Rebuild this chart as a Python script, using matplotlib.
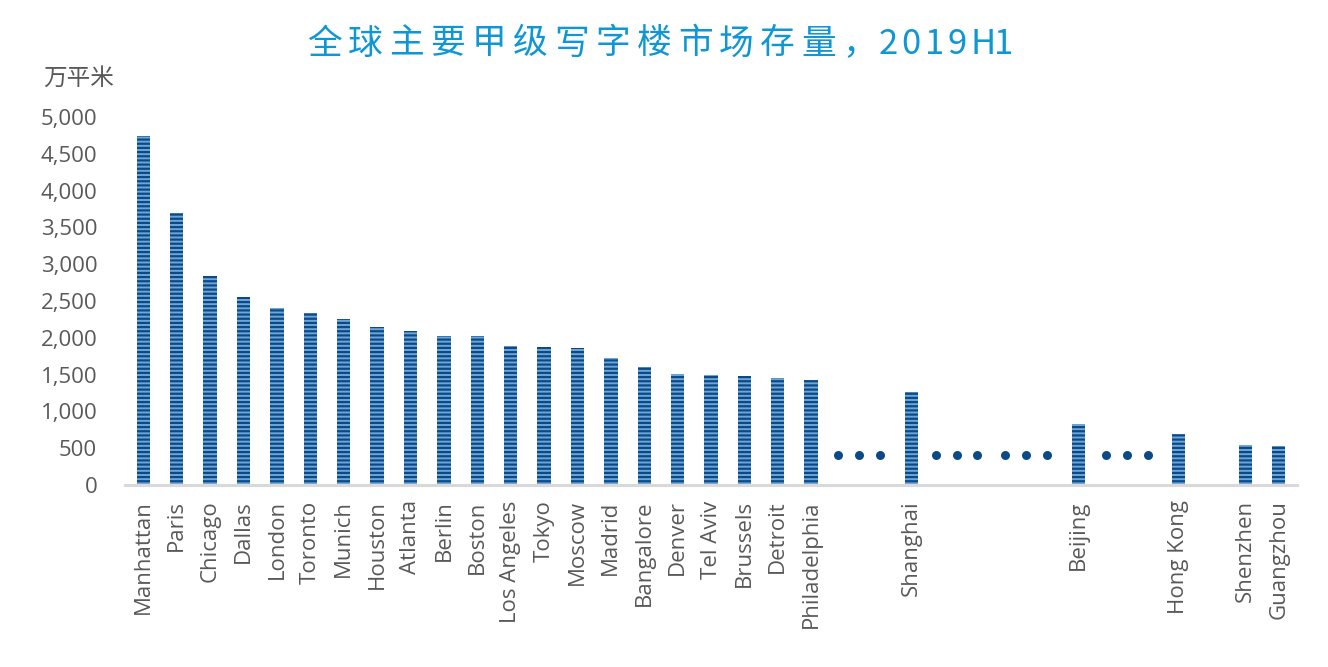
import matplotlib
matplotlib.use("Agg")
import matplotlib.pyplot as plt
from matplotlib.ticker import FuncFormatter

plt.rcParams['font.family'] = ['Open Sans', 'Noto Sans CJK SC', 'DejaVu Sans']
plt.rcParams['hatch.linewidth'] = 1.6

# slot index of each city (gaps hold the "..." markers)
cities = ["Manhattan", "Paris", "Chicago", "Dallas", "London", "Toronto", "Munich",
          "Houston", "Atlanta", "Berlin", "Boston", "Los Angeles", "Tokyo", "Moscow",
          "Madrid", "Bangalore", "Denver", "Tel Aviv", "Brussels", "Detroit",
          "Philadelphia", "Shanghai", "Beijing", "Hong Kong", "Shenzhen", "Guangzhou"]
slots = [0, 1, 2, 3, 4, 5, 6, 7, 8, 9, 10, 11, 12, 13, 14, 15, 16, 17, 18, 19, 20,
         23, 28, 31, 33, 34]
stock = [4740, 3700, 2840, 2555, 2405, 2335, 2255, 2150, 2090, 2025, 2025, 1890,
         1875, 1860, 1725, 1605, 1510, 1495, 1480, 1455, 1430, 1265, 830, 695, 545, 530]

# ellipsis dots (slot coordinates, value)
dot_x = [20.81, 21.44, 22.07, 23.74, 24.37, 24.98, 25.81, 26.44, 27.07, 28.83, 29.46, 30.09]
dot_y = [410] * len(dot_x)

title = "全球主要甲级写字楼市场存量，2019H1"
unit_label = "万平米"

fig = plt.figure(figsize=(13.28, 6.67), dpi=100)
ax = fig.add_axes([125/1328, 1 - 485/667, (1297-125)/1328, (485-117)/667])

ax.bar(slots, stock, width=0.4, color='#6FA6D8', edgecolor='#0B4A86',
       hatch='----', linewidth=0)
ax.scatter(dot_x, dot_y, s=42, color='#0B4A86', zorder=3, linewidths=0)

ax.set_xlim(-0.55, 34.55)
ax.set_ylim(0, 5000)
ax.set_yticks(range(0, 5001, 500))
ax.yaxis.set_major_formatter(FuncFormatter(lambda v, p: f"{int(v):,}"))
ax.set_xticks(slots)
ax.set_xticklabels(cities, rotation=90, fontsize=16, color='#595959')
ax.tick_params(axis='y', labelsize=16, labelcolor='#595959', length=0, pad=20)
ax.tick_params(axis='x', length=0, pad=11)

for s in ['top', 'right', 'left']:
    ax.spines[s].set_visible(False)
ax.spines['bottom'].set_color('#D9D9D9')
ax.spines['bottom'].set_linewidth(2.2)

fig.text(79/1328, 1 - 78/667, unit_label, fontsize=17, color='#595959',
         ha='center', va='center', family=['Noto Sans CJK SC', 'DejaVu Sans'])

# title with letter spacing (character by character)
x = 307
for ch in title:
    fig.text(x/1328, 1 - 44/667, ch, fontsize=25, color='#0E97D4',
             ha='left', va='center', family=['Noto Sans CJK SC', 'DejaVu Sans'])
    if ch == '，':
        x += 36
    elif ch.isascii():
        x += 23
    else:
        x += 41.2

fig.savefig("out.png", dpi=100)
